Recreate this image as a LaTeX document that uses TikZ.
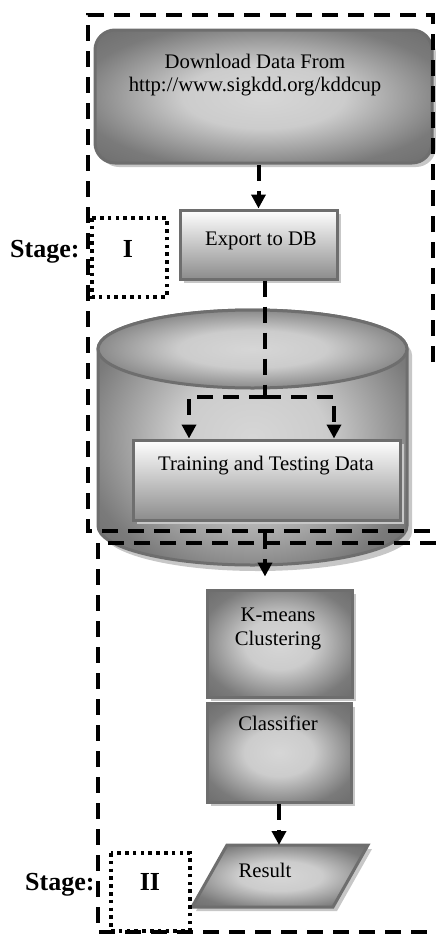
\documentclass[tikz,border=0pt]{standalone}
\usepackage{fontspec}
\setmainfont{Liberation Serif}
\usetikzlibrary{arrows.meta,positioning,shapes.geometric,shadows}
\pgfdeclareradialshading{soft}{\pgfpoint{0bp}{0bp}}{color(0bp)=(black!16); color(12bp)=(black!20); color(28bp)=(black!52); color(40bp)=(black!60)}

\begin{document}
\begin{tikzpicture}[x=1pt,y=1pt,>={Triangle[length=14pt,width=14pt]},
  txt/.style={font=\fontsize{20.7}{23.5}\selectfont,align=center},
  stg/.style={font=\fontsize{26}{30}\selectfont\bfseries},
  box/.style={draw=black!57,line width=3pt,inner sep=0pt,
    drop shadow={shadow xshift=4pt,shadow yshift=-4pt,fill=black!22,opacity=1}},
  rshade/.style={shade,shading=soft},
  vshade/.style={top color=white,bottom color=black!45},
  dashln/.style={line width=4pt,dash pattern=on 16pt off 10pt},
  dotbox/.style={line width=3.6pt,dash pattern=on 3.6pt off 4.2pt}]
\useasboundingbox (0,0) rectangle (436,-937);

% download box
\node[box,rshade,rounded corners=20pt,minimum width=337pt,minimum height=133pt] (dl) at (263.5,-96.5) {};
\node[txt] (dltxt) at (255,-75) {Download Data From\\http://www.sigkdd.org/kddcup};

% export box
\node[box,vshade,minimum width=157pt,minimum height=69pt] (exp) at (258.5,-244.5) {};
\node[txt,anchor=base] (exptxt) at (261,-245) {Export to DB};

% database cylinder
\coordinate (db) at (252.5,-349);
\fill[black!22,shift={(5,-6)}] (98,-349) -- (98,-526) arc[start angle=180,end angle=360,x radius=154.5,y radius=39] -- (407,-349) arc[start angle=0,end angle=180,x radius=154.5,y radius=39] -- cycle;
\draw[draw=black!57,line width=3pt,rshade] (98,-349) -- (98,-526) arc[start angle=180,end angle=360,x radius=154.5,y radius=39] -- (407,-349) arc[start angle=0,end angle=180,x radius=154.5,y radius=39] -- cycle;
\draw[draw=black!57,line width=3pt,rshade] (db) ellipse[x radius=154.5,y radius=39];

% training set
\node[box,vshade,minimum width=267pt,minimum height=80pt] (tt) at (266.5,-480) {};
\node[txt,anchor=base] (tttxt) at (266,-470) {Training and Testing Data};

% stage two boxes
\node[box,rshade,minimum width=144pt,minimum height=99pt] (cls) at (279,-752.5) {};
\node[box,rshade,minimum width=145pt,minimum height=107pt] (km) at (279.5,-643.5) {};
\node[txt] (kmtxt) at (278,-629) {K-means\\Clustering};
\node[txt,anchor=base] (clstxt) at (278,-730) {Classifier};
\draw[box,rshade] (227,-845) -- (368,-845) -- (333,-907) -- (192,-907) -- cycle;
\coordinate (res) at (279,-845);
\node[txt,anchor=base] (restxt) at (265,-877) {Result};

% flow
\coordinate (fork) at (265,-397);
\coordinate (tl) at ([xshift=-77.5]tt.north);
\coordinate (tr) at ([xshift=67.5]tt.north);
\coordinate (dbout) at (265,-533);
\draw[dashln,->] (dl.south -| exp.north) -- (exp.north);
\draw[dashln] (exp.south -| fork) -- (fork);
\draw[dashln,->] (fork) -| (tl);
\draw[dashln,->] (fork) -| (tr);
\draw[dashln,->,shorten >=12pt] (dbout) -- (dbout |- km.north);
\draw[dashln,->] (cls.south) -- (cls.south |- res);

% stage frames
\draw[dashln] (433,-362) -- (433,-15) -- (88,-15) -- (88,-531) -- (436,-531);
\draw[dashln] (436,-543) -- (98,-543) -- (98,-932) -- (436,-932);
\draw[dotbox] (92,-218) rectangle (167,-297);
\draw[dotbox] (111,-853) rectangle (190,-931);
\node[stg,anchor=base] (s1) at (128,-257) {I};
\node[stg,anchor=base] (s2) at (150,-890) {II};
\node[stg,anchor=base east] (s1lbl) at (83,-257) {Stage:};
\node[stg,anchor=base east] (s2lbl) at (98,-890) {Stage:};
\end{tikzpicture}
\end{document}
